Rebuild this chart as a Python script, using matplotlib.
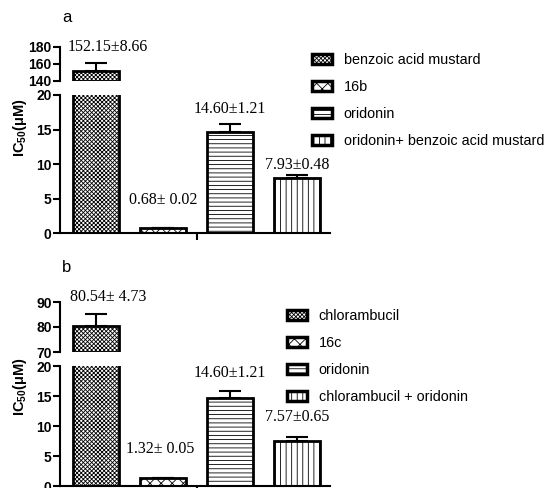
import numpy as np
import matplotlib
matplotlib.use("Agg")
import matplotlib.pyplot as plt
from matplotlib.patches import Patch

plt.rcParams['font.family'] = ['Liberation Sans', 'DejaVu Sans']
plt.rcParams['mathtext.fontset'] = 'custom'
plt.rcParams['mathtext.rm'] = 'Liberation Sans'
plt.rcParams['mathtext.bf'] = 'Liberation Sans:bold'
plt.rcParams['hatch.linewidth'] = 0.6

# data
labels_a = ["benzoic acid mustard", "16b", "oridonin", "oridonin+ benzoic acid mustard"]
values_a = [152.15, 0.68, 14.60, 7.93]
errors_a = [8.66, 0.02, 1.21, 0.48]
text_a = ["152.15\u00b18.66", "0.68\u00b1 0.02", "14.60\u00b11.21", "7.93\u00b10.48"]

labels_b = ["chlorambucil", "16c", "oridonin", "chlorambucil + oridonin"]
values_b = [80.54, 1.32, 14.60, 7.57]
errors_b = [4.73, 0.05, 1.21, 0.65]
text_b = ["80.54\u00b1 4.73", "1.32\u00b1 0.05", "14.60\u00b11.21", "7.57\u00b10.65"]

hatches = ['xxxxxxxx', 'xxx', '----', '|||']
W, H = 548, 488


def fig_box(x0, x1, top, bottom):
    return [x0 / W, 1 - bottom / H, (x1 - x0) / W, (bottom - top) / H]


def panel(fig, letter, letter_y, up_box, low_box, up_lim, up_ticks,
          values, errors, texts, labels, offsets, leg_anchor, ylab_y):
    ax_up = fig.add_axes(up_box)
    ax_lo = fig.add_axes(low_box)
    x = np.arange(len(values))
    for ax in (ax_up, ax_lo):
        for s in ['top', 'right']:
            ax.spines[s].set_visible(False)
        ax.spines['left'].set_linewidth(1.5)
        ax.spines['bottom'].set_linewidth(1.5)
        ax.set_xlim(-0.54, 3.49)
        ax.tick_params(axis='y', direction='out', length=5, width=1.5, labelsize=10, pad=1)
    ax_up.spines['bottom'].set_visible(False)
    ax_up.set_xticks([])
    ax_lo.set_xticks([1.5])
    ax_lo.tick_params(axis='x', direction='out', length=5, width=1.5, labelbottom=False)

    # lower axis: all bars
    for i in range(len(values)):
        ax_lo.bar(x[i], values[i], width=0.69, color='white', edgecolor='black',
                  linewidth=2, hatch=hatches[i])
        if values[i] < 20:
            ax_lo.errorbar(x[i], values[i], yerr=[[0], [errors[i]]], color='black',
                           capsize=8, elinewidth=1.5, capthick=1.5)
    ax_lo.set_ylim(0, 20)
    ax_lo.set_yticks([0, 5, 10, 15, 20])

    # upper axis: the tall bar
    ax_up.bar(x[0], values[0] - up_lim[0], bottom=up_lim[0], width=0.69, color='white',
              edgecolor='black', linewidth=2, hatch=hatches[0])
    ax_up.errorbar(x[0], values[0], yerr=[[0], [errors[0]]], color='black',
                   capsize=8, elinewidth=1.5, capthick=1.5)
    ax_up.set_ylim(*up_lim)
    ax_up.set_yticks(up_ticks)
    for ax in (ax_up, ax_lo):
        for lab in ax.get_yticklabels():
            lab.set_fontweight('bold')

    # value labels
    for i in range(len(values)):
        ax = ax_up if values[i] > 20 else ax_lo
        ax.annotate(texts[i], (x[i], values[i] + errors[i]), xytext=offsets[i],
                    textcoords='offset points', ha='center', va='center',
                    fontsize=11.5, family=['Liberation Serif', 'DejaVu Serif'],
                    annotation_clip=False)

    fig.text(up_box[0] + 2 / W, 1 - letter_y / H, letter, fontsize=12, ha='left', va='center')
    fig.text(20 / W, 1 - ylab_y / H, 'IC$_\\mathbf{50}$(\u03bcM)',
             rotation=90, fontsize=10.5, fontweight='bold', ha='center', va='center')

    handles = [Patch(facecolor='white', edgecolor='black', linewidth=2.5, hatch=h) for h in hatches]
    fig.legend(handles, labels, loc='upper left', bbox_to_anchor=leg_anchor,
               frameon=False, fontsize=10.4, handlelength=1.4, handleheight=0.65,
               handletextpad=0.8, labelspacing=0.9, borderpad=0, borderaxespad=0)


fig = plt.figure(figsize=(W / 100, H / 100), dpi=100)

panel(fig, 'a', 18, fig_box(60, 330, 47, 81), fig_box(60, 330, 95, 233),
      (140, 180), [140, 160, 180], values_a, errors_a, text_a, labels_a,
      [(8, 12), (0, 20), (0, 11), (0, 7)], (312 / W, 1 - 53 / H), 128)

panel(fig, 'b', 267, fig_box(60, 330, 302, 352), fig_box(60, 330, 366, 486),
      (70, 90), [70, 80, 90], values_b, errors_b, text_b, labels_b,
      [(9, 12), (-2, 21), (0, 13), (0, 14)], (287 / W, 1 - 309 / H), 387)

fig.savefig('out.png', dpi=100)
